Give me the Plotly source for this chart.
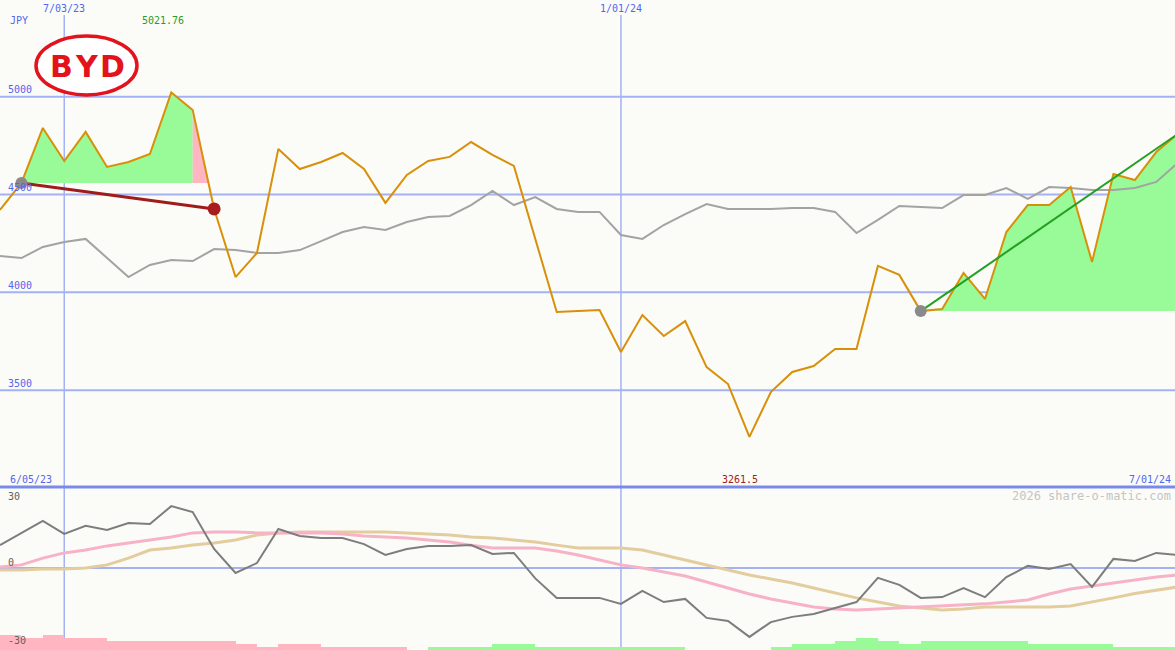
import pandas as pd
import plotly.graph_objects as go

# ---------------- data ----------------
dates = pd.date_range("2023-06-12", periods=56, freq="7D")

close = [4421, 4559, 4840, 4671, 4820, 4641, 4666, 4707, 5021.76, 4932,
         4426, 4078, 4201, 4733, 4630, 4666, 4712, 4630, 4457, 4600,
         4671, 4692, 4768, 4702, 4646, 4273, 3899, 3904, 3910, 3695,
         3884, 3777, 3853, 3618, 3531, 3261.5, 3490, 3593, 3623, 3710,
         3710, 4135, 4089, 3904, 3915, 4099, 3966, 4308, 4446, 4446,
         4538, 4155, 4605, 4574, 4717, 4809]

avg_line = [4186, 4175, 4232, 4257, 4273, 4175, 4078, 4140, 4165, 4160,
            4221, 4216, 4201, 4201, 4216, 4262, 4308, 4334, 4319, 4359,
            4385, 4390, 4446, 4518, 4446, 4487, 4426, 4411, 4411, 4293,
            4273, 4344, 4400, 4451, 4426, 4426, 4426, 4431, 4431, 4411,
            4303, 4370, 4441, 4436, 4431, 4497, 4497, 4533, 4477, 4538,
            4533, 4523, 4523, 4533, 4564, 4661]

osc = [8.8, 13.5, 18.1, 13.1, 16.2, 14.6, 17.3, 16.9, 23.8, 21.5,
       7.3, -1.9, 1.9, 15.0, 12.3, 11.5, 11.5, 9.2, 5.0, 7.3,
       8.5, 8.5, 8.8, 5.4, 5.8, -4.0, -11.5, -11.5, -11.5, -13.8,
       -8.8, -13.1, -11.9, -19.2, -20.4, -26.5, -20.8, -18.8, -17.7, -15.4,
       -13.1, -3.8, -6.5, -11.5, -11.2, -7.7, -11.2, -3.5, 0.8, -0.4,
       1.5, -7.3, 3.5, 2.7, 5.8, 5.0]

osc_pink = [0.4, 1.2, 3.8, 5.8, 6.9, 8.5, 9.6, 10.8, 11.9, 13.5,
            13.8, 13.8, 13.5, 13.5, 13.5, 13.5, 13.1, 12.3, 11.9, 11.5,
            10.8, 10.0, 8.8, 7.7, 7.7, 7.7, 6.5, 5.0, 3.1, 1.2,
            0.0, -1.5, -3.1, -5.4, -7.7, -10.0, -11.9, -13.5, -15.0, -15.8,
            -16.2, -15.8, -15.4, -15.0, -14.6, -14.2, -13.8, -13.1, -12.3, -10.0,
            -8.1, -6.9, -5.8, -4.6, -3.5, -2.7]

osc_tan = [-0.8, -0.8, -0.4, -0.4, 0.0, 1.2, 3.8, 6.9, 7.7, 8.8,
           9.6, 10.8, 12.7, 13.5, 13.8, 13.8, 13.8, 13.8, 13.8, 13.5,
           13.1, 12.7, 11.9, 11.5, 10.8, 10.0, 8.8, 7.7, 7.7, 7.7,
           6.9, 5.0, 3.1, 1.2, -0.8, -2.7, -4.2, -5.8, -7.7, -9.6,
           -11.5, -13.1, -14.6, -15.4, -16.2, -15.8, -15.0, -15.0, -15.0, -15.0,
           -14.6, -13.1, -11.5, -9.8, -8.5, -7.3]

# signed histogram levels (negative = pink, positive = green), one per week interval
hist_levels = [-5, -4, -5, -4, -4, -3, -3, -3, -3, -3,
               -3, -2, -1, -2, -2, -1, -1, -1, -1, 0,
               1, 1, 1, 2, 2, 1, 1, 1, 1, 1,
               1, 1, 0, 0, 0, 0, 1, 2, 2, 3,
               4, 3, 2, 3, 3, 3, 3, 3, 2, 2,
               2, 2, 1, 1, 1]

price_ticks = [5000, 4500, 4000, 3500]
osc_ticks = [30, 0, -30]
vline_dates = ["2023-07-03", "2024-01-01"]
vline_labels = ["7/03/23", "1/01/24"]

down_start, down_end = 1, 10
up_start, up_end = 43, 55

# ---------------- styles ----------------
BG = "#fbfcf8"
GRID = "#a4b2f4"
BLUE_TXT = "#5266ee"
ORANGE = "#d8900a"
GREY = "#a3a3a3"
GREEN_FILL = "#98fb98"
PINK_FILL = "#ffb6c1"
MONO = "DejaVu Sans Mono"

W, H = 1175, 650
split = 1 - 487 / H

fig = go.Figure()

# green fill of first swing
base1 = close[down_start]
xs = list(dates[down_start:9 + 1]) + [dates[9], dates[down_start]]
ys = close[down_start:9 + 1] + [base1, base1]
fig.add_trace(go.Scatter(x=xs, y=ys, fill="toself", fillcolor=GREEN_FILL,
                         line=dict(width=0), mode="lines", hoverinfo="skip"))
# pink fill where it drops back to baseline
t = (close[9] - base1) / (close[9] - close[10])
cross = dates[9] + (dates[10] - dates[9]) * t
fig.add_trace(go.Scatter(x=[dates[9], cross, dates[9]], y=[close[9], base1, base1],
                         fill="toself", fillcolor=PINK_FILL, line=dict(width=0),
                         mode="lines", hoverinfo="skip"))
# green fill of last swing
base2 = close[up_start]
xs = list(dates[up_start:up_end + 1]) + [dates[up_end], dates[up_start]]
ys = close[up_start:up_end + 1] + [base2, base2]
fig.add_trace(go.Scatter(x=xs, y=ys, fill="toself", fillcolor=GREEN_FILL,
                         line=dict(width=0), mode="lines", hoverinfo="skip"))

# average line and price line
fig.add_trace(go.Scatter(x=dates, y=avg_line, mode="lines",
                         line=dict(color=GREY, width=2)))
fig.add_trace(go.Scatter(x=dates, y=close, mode="lines",
                         line=dict(color=ORANGE, width=2)))

# trend segments
fig.add_trace(go.Scatter(x=[dates[down_start], dates[down_end]],
                         y=[close[down_start], close[down_end]], mode="lines",
                         line=dict(color="#a01c1c", width=3)))
fig.add_trace(go.Scatter(x=[dates[up_start], dates[up_end]],
                         y=[close[up_start], close[up_end]], mode="lines",
                         line=dict(color="#22a022", width=2)))
fig.add_trace(go.Scatter(x=[dates[down_start], dates[up_start]],
                         y=[close[down_start], close[up_start]], mode="markers",
                         marker=dict(color="#8a8a8a", size=12)))
fig.add_trace(go.Scatter(x=[dates[down_end]], y=[close[down_end]], mode="markers",
                         marker=dict(color="#a81e1e", size=13)))

# lower panel
bar_colors = [GREEN_FILL if v > 0 else PINK_FILL for v in hist_levels]
fig.add_trace(go.Bar(x=list(dates[:len(hist_levels)]), y=[abs(v) for v in hist_levels],
                     width=7 * 86400000, offset=0, marker=dict(color=bar_colors, line=dict(width=0)),
                     yaxis="y3", xaxis="x"))
fig.add_trace(go.Scatter(x=dates, y=osc_tan, mode="lines", yaxis="y2",
                         line=dict(color="#e3cc9e", width=3)))
fig.add_trace(go.Scatter(x=dates, y=osc_pink, mode="lines", yaxis="y2",
                         line=dict(color="#f8b2c8", width=3)))
fig.add_trace(go.Scatter(x=dates, y=osc, mode="lines", yaxis="y2",
                         line=dict(color="#7d7d7d", width=2)))

shapes = []
for v in price_ticks:
    shapes.append(dict(type="line", xref="paper", yref="y", x0=0, x1=1, y0=v, y1=v,
                       line=dict(color=GRID, width=2), layer="below"))
shapes.append(dict(type="line", xref="paper", yref="y2", x0=0, x1=1, y0=0, y1=0,
                   line=dict(color=GRID, width=2), layer="below"))
for d in vline_dates:
    shapes.append(dict(type="line", xref="x", yref="paper", x0=d, x1=d, y0=0, y1=1 - 15 / H,
                       line=dict(color=GRID, width=1.5), layer="below"))
shapes.append(dict(type="line", xref="paper", yref="paper", x0=0, x1=1, y0=split, y1=split,
                   line=dict(color="#7a8ae9", width=3), layer="above"))
# logo
shapes.append(dict(type="circle", xref="paper", yref="paper",
                   x0=36 / W, x1=137 / W, y0=1 - 95 / H, y1=1 - 36 / H,
                   line=dict(color="#e3121b", width=3.5), fillcolor="white", layer="above"))

ann = []
def txt(x, y, s, color, size=10, xanchor="left", **kw):
    ann.append(dict(x=x, y=y, xref="paper", yref="paper", text=s, showarrow=False,
                    xanchor=xanchor, yanchor="middle",
                    font=dict(family=MONO, size=size, color=color), **kw))

txt(8 / W, 1 - 20 / H, "JPY", BLUE_TXT)
for d, lab in zip(vline_dates, vline_labels):
    ann.append(dict(x=d, y=1 - 8 / H, xref="x", yref="paper", text=lab, showarrow=False,
                    xanchor="center", yanchor="middle",
                    font=dict(family=MONO, size=10, color=BLUE_TXT)))
txt(163 / W, 1 - 20 / H, f"{max(close):.2f}", "#2a9a2a", xanchor="center")
for v in price_ticks:
    ann.append(dict(x=6 / W, y=v, xref="paper", yref="y", yshift=7, text=str(v),
                    showarrow=False, xanchor="left", yanchor="middle",
                    font=dict(family=MONO, size=10, color=BLUE_TXT)))
txt(8 / W, 1 - 479 / H, "6/05/23", BLUE_TXT)
txt(740 / W, 1 - 479 / H, f"{min(close)}", "#a02020", xanchor="center")
txt(1173 / W, 1 - 479 / H, "7/01/24", BLUE_TXT, xanchor="right")
txt(1173 / W, 1 - 496 / H, "2026 share-o-matic.com", "#c4c4c4", size=12, xanchor="right")
for v, yp in zip(osc_ticks, [496, 562, 640]):
    txt(6 / W, 1 - yp / H, str(v), "#606060")
# logo letters
for ch, cx in zip("BYD", [61, 87, 112]):
    ann.append(dict(x=cx / W, y=1 - 66 / H, xref="paper", yref="paper", text=f"<b>{ch}</b>",
                    showarrow=False, xanchor="center", yanchor="middle",
                    font=dict(family="DejaVu Sans", size=30, color="#e3121b")))

fig.update_layout(
    width=W, height=H, margin=dict(l=0, r=0, t=0, b=0),
    paper_bgcolor=BG, plot_bgcolor=BG, showlegend=False, hovermode=False,
    bargap=0,
    xaxis=dict(type="date", range=["2023-06-12", "2024-06-30 03:00"], visible=False,
               showgrid=False, zeroline=False),
    yaxis=dict(domain=[split, 1], range=[3005, 5494], visible=False, showgrid=False, zeroline=False),
    yaxis2=dict(domain=[0, split], range=[-31.54, 31.15], visible=False, showgrid=False,
                zeroline=False),
    yaxis3=dict(overlaying="y2", range=[0, 163 / 3], visible=False, showgrid=False, zeroline=False),
    shapes=shapes, annotations=ann,
)

fig.write_html("out.html", config={"displayModeBar": False},
               post_script="document.body.style.margin='0px';document.body.style.overflow='hidden';")
